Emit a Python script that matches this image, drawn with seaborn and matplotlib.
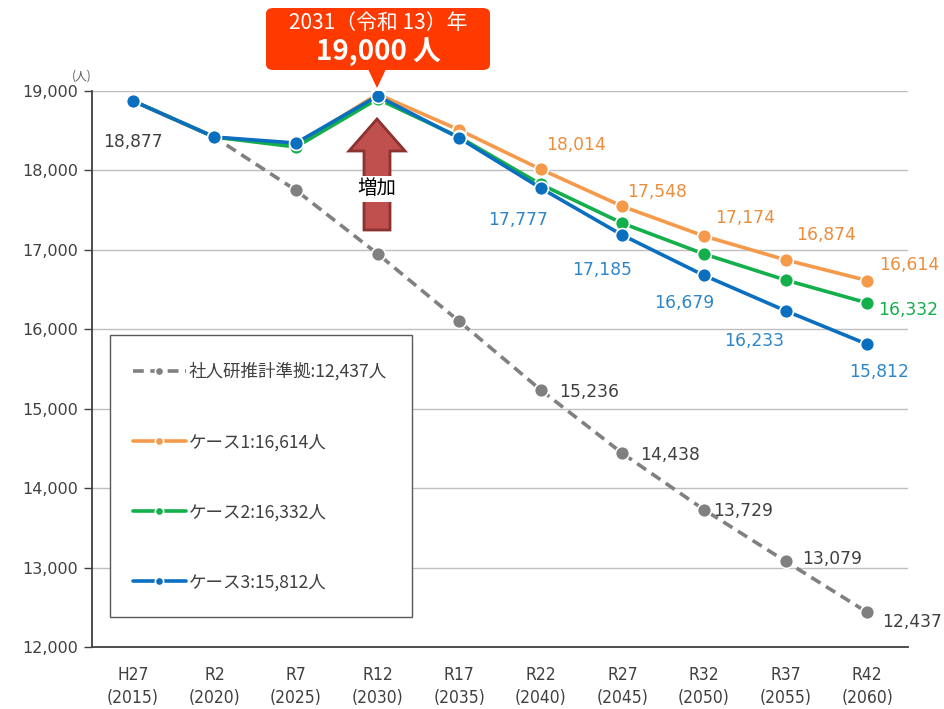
import numpy as np
import pandas as pd
import matplotlib
matplotlib.use("Agg")
import matplotlib.pyplot as plt
import seaborn as sns
from matplotlib.patches import FancyBboxPatch, Polygon, Rectangle

# ---------------- data ----------------
categories = ["H27\n(2015)", "R2\n(2020)", "R7\n(2025)", "R12\n(2030)", "R17\n(2035)",
              "R22\n(2040)", "R27\n(2045)", "R32\n(2050)", "R37\n(2055)", "R42\n(2060)"]
ipss = [18877, 18420, 17750, 16950, 16100, 15236, 14438, 13729, 13079, 12437]
case1 = [18877, 18420, 18320, 18960, 18510, 18014, 17548, 17174, 16874, 16614]
case2 = [18877, 18420, 18295, 18900, 18420, 17825, 17335, 16948, 16620, 16332]
case3 = [18877, 18420, 18345, 18937, 18408, 17777, 17185, 16679, 16233, 15812]
series_names = ["社人研推計準拠:12,437人", "ケース1:16,614人", "ケース2:16,332人", "ケース3:15,812人"]
yticks = [12000, 13000, 14000, 15000, 16000, 17000, 18000, 19000]
callout_year = "2031（令和 13）年"
callout_value = "19,000 人"
arrow_label = "増加"
unit_label = "(人)"

# ---------------- style ----------------
W, H = 944, 709
sns.set_theme(style="white")
plt.rcParams['font.family'] = ['Noto Sans CJK JP', 'DejaVu Sans']

fig = plt.figure(figsize=(W / 100, H / 100), dpi=100)
ax = fig.add_axes([92 / W, 1 - 647 / H, (908 - 92) / W, (647 - 91) / H])

def px(x, y):
    return (x / W, 1 - y / H)

colors = ["#808080", "#F59A4A", "#13AF4B", "#0B6FC0"]
text_colors = ["#404040", "#EA8E3C", "#13AF4B", "#2F86C6"]
pos = np.arange(len(categories))

df = pd.DataFrame({
    "x": np.tile(pos, 4),
    "y": ipss + case1 + case2 + case3,
    "series": np.repeat(series_names, len(categories)),
})

for i, name in enumerate(series_names):
    sub = df[df["series"] == name]
    ls = (0, (3, 1.8)) if i == 0 else "-"
    sns.lineplot(data=sub, x="x", y="y", ax=ax, color=colors[i], lw=2.6,
                 linestyle=ls, marker="o", markersize=10,
                 markeredgecolor="white", markeredgewidth=1.2,
                 label=name, zorder=3 + i, legend=False)

ax.set_xlim(-0.5, len(categories) - 0.5)
ax.set_ylim(12000, 19000)
ax.set_yticks(yticks)
ax.set_yticklabels([f"{v:,}" for v in yticks], fontsize=11.5, color="#404040",
                   family=['DejaVu Sans'])
ax.set_xticks(pos)
ax.set_xticklabels(categories, fontsize=12.5, color="#404040",
                   family=['DejaVu Sans'], fontstretch="condensed", linespacing=1.35)
ax.set_xticks(np.arange(-0.5, len(categories)), minor=True)
ax.tick_params(axis="x", which="major", length=0, pad=14)
ax.tick_params(axis="x", which="minor", length=7, width=1, color="#404040", direction="out")
ax.tick_params(axis="y", length=6, width=1, color="#404040", direction="out", left=True, pad=4)
ax.set_xlabel("")
ax.set_ylabel("")
ax.grid(axis="y", color="#BFBFBF", lw=1)
ax.grid(axis="x", visible=False)
for s in ["top", "right"]:
    ax.spines[s].set_visible(False)
for s in ["left", "bottom"]:
    ax.spines[s].set_color("#404040")
    ax.spines[s].set_linewidth(1.3)

# ---------------- data labels ----------------
fs = 12.3
def lab(xi, vals, color, dx, dy, ha="left"):
    ax.annotate(f"{vals[xi]:,}", (xi, vals[xi]), xytext=(dx, dy), textcoords="offset pixels",
                ha=ha, va="center", fontsize=fs, color=color, family=['DejaVu Sans'])

lab(0, ipss, text_colors[0], 0, -41, "center")
for xi, dx, dy in [(5, 18, -2), (6, 18, -2), (7, 9, -1), (8, 17, 2), (9, 15, -10)]:
    lab(xi, ipss, text_colors[0], dx, dy)
for xi, dx, dy in [(5, 5, 24), (6, 5, 14), (7, 11, 18), (8, 11, 25), (9, 12, 16)]:
    lab(xi, case1, text_colors[1], dx, dy)
lab(9, case2, text_colors[2], 11, -7)
for xi, dx, dy in [(5, -23, -32), (6, -20, -35), (7, -20, -28), (8, -31, -30), (9, 12, -28)]:
    lab(xi, case3, text_colors[3], dx, dy, "center")

# ---------------- legend ----------------
frame = Rectangle(px(110, 617), 302 / W, 282 / H, transform=fig.transFigure,
                  facecolor="white", edgecolor="#595959", lw=1.0, zorder=8, clip_on=False)
ax.add_patch(frame)
leg = ax.legend(loc="center left", bbox_to_anchor=px(133, 477), bbox_transform=fig.transFigure,
                frameon=False, fontsize=12.6, handlelength=3.0, handletextpad=0.2,
                labelspacing=2.98, borderpad=0, borderaxespad=0, markerscale=0.6)
for t in leg.get_texts():
    t.set_color("#404040")
leg.set_zorder(9)

# ---------------- annotations ----------------
fig.text(*px(82, 76), unit_label, fontsize=8.5, color="#595959", ha="center", va="center")

# callout box
red = "#FF3A00"
box = FancyBboxPatch(px(266, 70), 224 / W, 62 / H, boxstyle="round,pad=0,rounding_size=0.008",
                     transform=fig.transFigure, facecolor=red, edgecolor="none", zorder=10)
fig.patches.append(box)
tri = Polygon([px(368, 69), px(386, 69), px(377, 88)], closed=True, transform=fig.transFigure,
              facecolor=red, edgecolor="none", zorder=10)
fig.patches.append(tri)
fig.text(*px(378, 23), callout_year, fontsize=15, color="white", ha="center", va="center", zorder=11)
fig.text(*px(378, 52), callout_value, fontsize=20, fontweight="bold", color="white",
         ha="center", va="center", zorder=11)

# increase arrow
arr = Polygon([px(364, 230), px(390, 230), px(390, 151), px(405, 151), px(377, 119),
               px(349, 151), px(364, 151)], closed=True, transform=fig.transFigure,
              facecolor="#C0504D", edgecolor="#8C3230", lw=2, zorder=9)
fig.patches.append(arr)
fig.text(*px(377, 189), arrow_label, fontsize=14, color="black", ha="center", va="center",
         zorder=12, bbox=dict(facecolor="white", edgecolor="none", pad=2))

fig.savefig("out.png", dpi=100)
